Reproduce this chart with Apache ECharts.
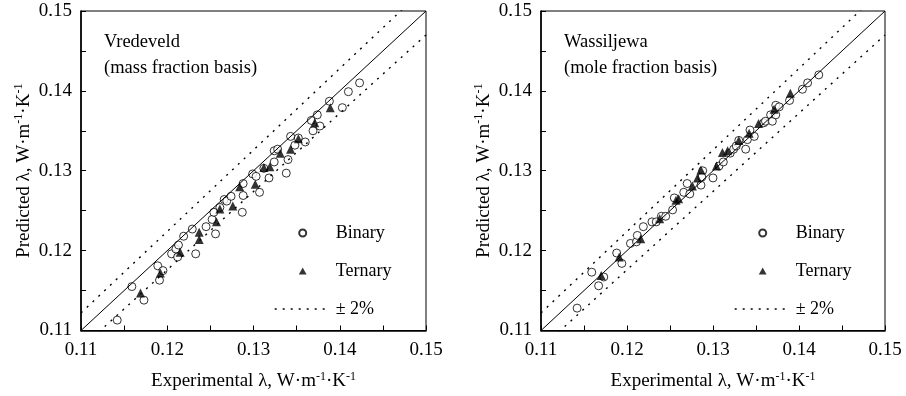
<!DOCTYPE html>
<html>
<head>
<meta charset="utf-8">
<script src="https://cdn.jsdelivr.net/npm/echarts@6/dist/echarts.min.js"></script>
<style>
  html, body { margin: 0; padding: 0; background: #fff; }
  #chart { width: 906px; height: 396px; }
</style>
</head>
<body>
<div id="chart"></div>
<script>
// data: [experimental, predicted] in W/(m K)
var vredeveldBinary = [
  [0.1142, 0.1113], [0.1159, 0.1155], [0.1173, 0.1138], [0.1189, 0.1181], [0.1191, 0.1163],
  [0.1195, 0.1175], [0.1205, 0.1196], [0.1210, 0.1202], [0.1213, 0.1207], [0.1212, 0.1192],
  [0.1219, 0.1218], [0.1229, 0.1227], [0.1233, 0.1196], [0.1245, 0.1230], [0.1252, 0.1239],
  [0.1256, 0.1221], [0.1254, 0.1248], [0.1261, 0.1254], [0.1266, 0.1264], [0.1269, 0.1262],
  [0.1274, 0.1268], [0.1287, 0.1248], [0.1288, 0.1269], [0.1288, 0.1284], [0.1299, 0.1296],
  [0.1303, 0.1293], [0.1307, 0.1273], [0.1312, 0.1303], [0.1318, 0.1291], [0.1324, 0.1311],
  [0.1324, 0.1325], [0.1328, 0.1327], [0.1338, 0.1297], [0.1340, 0.1314], [0.1343, 0.1343],
  [0.1348, 0.1332], [0.1352, 0.1341], [0.1360, 0.1336], [0.1367, 0.1363], [0.1369, 0.1350],
  [0.1374, 0.1370], [0.1377, 0.1356], [0.1388, 0.1387], [0.1403, 0.1379], [0.1410, 0.1399],
  [0.1423, 0.1410]
];
var vredeveldTernary = [
  [0.1169, 0.1147], [0.1192, 0.1172], [0.1215, 0.1198], [0.1237, 0.1223], [0.1237, 0.1214],
  [0.1257, 0.1236], [0.1261, 0.1252], [0.1276, 0.1256], [0.1284, 0.1280], [0.1302, 0.1283],
  [0.1312, 0.1304], [0.1319, 0.1305], [0.1331, 0.1322], [0.1343, 0.1327], [0.1352, 0.1340],
  [0.1371, 0.1360], [0.1389, 0.1379]
];
var wassiljewaBinary = [
  [0.1142, 0.1128], [0.1159, 0.1173], [0.1167, 0.1156], [0.1173, 0.1167], [0.1188, 0.1197],
  [0.1194, 0.1184], [0.1204, 0.1209], [0.1211, 0.1211], [0.1212, 0.1219], [0.1219, 0.1230],
  [0.1229, 0.1236], [0.1234, 0.1236], [0.1240, 0.1243], [0.1245, 0.1243], [0.1253, 0.1251],
  [0.1255, 0.1266], [0.1266, 0.1273], [0.1270, 0.1284], [0.1273, 0.1271], [0.1286, 0.1282],
  [0.1288, 0.1300], [0.1287, 0.1292], [0.1300, 0.1291], [0.1307, 0.1306], [0.1312, 0.1311],
  [0.1320, 0.1322], [0.1324, 0.1327], [0.1327, 0.1331], [0.1330, 0.1338], [0.1338, 0.1327],
  [0.1340, 0.1339], [0.1343, 0.1351], [0.1348, 0.1343], [0.1359, 0.1360], [0.1361, 0.1362],
  [0.1367, 0.1370], [0.1369, 0.1362], [0.1373, 0.1370], [0.1373, 0.1382], [0.1377, 0.1380],
  [0.1389, 0.1388], [0.1404, 0.1402], [0.1410, 0.1410], [0.1423, 0.1420]
];
var wassiljewaTernary = [
  [0.1170, 0.1169], [0.1191, 0.1192], [0.1216, 0.1215], [0.1238, 0.1240], [0.1257, 0.1263],
  [0.1260, 0.1265], [0.1276, 0.1281], [0.1282, 0.1291], [0.1286, 0.1301], [0.1304, 0.1306],
  [0.1311, 0.1323], [0.1317, 0.1325], [0.1330, 0.1338], [0.1342, 0.1347], [0.1353, 0.1359],
  [0.1371, 0.1377], [0.1390, 0.1397]
];

var axisMin = 0.11, axisMax = 0.15, axisStep = 0.01;
var band = 0.02; // +/- 2 % deviation lines
var panelNotes = ['Vredeveld\n(mass fraction basis)', 'Wassiljewa\n(mole fraction basis)'];

var font = 'Liberation Serif';
var dots = [2, 6];
var chart = echarts.init(document.getElementById('chart'));

var parity = [[axisMin, axisMin], [axisMax, axisMax]];
var upper = parity.map(function (p) { return [p[0], p[1] * (1 + band)]; });
var lower = parity.map(function (p) { return [p[0], p[1] * (1 - band)]; });

var titleRich = {
  a: { fontFamily: font, fontSize: 19, lineHeight: 22, color: '#000' },
  s: { fontFamily: font, fontSize: 12, lineHeight: 10, verticalAlign: 'top', color: '#000' }
};

function makeAxis(i, dim) {
  var nm = dim === 'x' ? 'Experimental' : 'Predicted';
  return {
    gridIndex: i,
    type: 'value',
    min: axisMin, max: axisMax, interval: axisStep,
    name: '{a|' + nm + ' λ, W·m}{s|-1}{a|·K}{s|-1}',
    nameLocation: 'middle',
    nameGap: dim === 'x' ? 40 : 46,
    nameTextStyle: { rich: titleRich },
    axisLine: { onZero: false, lineStyle: { color: '#000', width: 1.6 } },
    axisTick: { inside: true, length: 5, lineStyle: { color: '#000' } },
    minorTick: { show: true, splitNumber: 2, length: 5, lineStyle: { color: '#000' } },
    splitLine: { show: false },
    axisLabel: {
      color: '#000', fontFamily: font, fontSize: 19, margin: dim === 'x' ? 10 : 9,
      formatter: function (v) { return v.toFixed(2); }
    }
  };
}

var series = [];
var sets = [[vredeveldBinary, vredeveldTernary], [wassiljewaBinary, wassiljewaTernary]];
sets.forEach(function (s, i) {
  series.push(
    { name: 'y = x', type: 'line', xAxisIndex: i, yAxisIndex: i, data: parity, symbol: 'none',
      itemStyle: { color: '#000' }, lineStyle: { color: '#000', width: 1 }, silent: true },
    { name: '± 2%', type: 'line', xAxisIndex: i, yAxisIndex: i, data: upper, symbol: 'none',
      itemStyle: { color: '#000' }, lineStyle: { color: '#000', width: 1.4, type: dots }, silent: true },
    { name: '± 2%', type: 'line', xAxisIndex: i, yAxisIndex: i, data: lower, symbol: 'none',
      itemStyle: { color: '#000' }, lineStyle: { color: '#000', width: 1.4, type: dots }, silent: true },
    { name: 'Binary', type: 'scatter', xAxisIndex: i, yAxisIndex: i, data: s[0], symbol: 'circle',
      symbolSize: 8, itemStyle: { color: '#fff', borderColor: '#000', borderWidth: 1 } },
    { name: 'Ternary', type: 'scatter', xAxisIndex: i, yAxisIndex: i, data: s[1], symbol: 'triangle',
      symbolSize: 9, itemStyle: { color: '#000' } }
  );
});

function makeLegend(left) {
  return {
    left: left, top: 223, orient: 'vertical', padding: 0,
    itemWidth: 56, itemHeight: 7, itemGap: 18,
    selectedMode: false,
    textStyle: { fontFamily: font, fontSize: 18, lineHeight: 20, color: '#000' },
    lineStyle: { width: 1.4, type: dots },
    data: [
      'Binary',
      { name: 'Ternary', icon: 'path://M5,0 L10,9 L0,9 Z' },
      { name: '± 2%', itemStyle: { opacity: 0 } }
    ]
  };
}

chart.setOption({
  backgroundColor: '#fff',
  animation: false,
  grid: [
    { left: 81, top: 11, width: 345, height: 321, show: true, borderColor: '#000', borderWidth: 1 },
    { left: 541, top: 11, width: 344, height: 321, show: true, borderColor: '#000', borderWidth: 1 }
  ],
  xAxis: [makeAxis(0, 'x'), makeAxis(1, 'x')],
  yAxis: [makeAxis(0, 'y'), makeAxis(1, 'y')],
  legend: [makeLegend(274), makeLegend(734)],
  graphic: [
    { type: 'text', left: 104, top: 29, style: { text: panelNotes[0], font: '18.5px "Liberation Serif"', lineHeight: 26, fill: '#000' } },
    { type: 'text', left: 564, top: 29, style: { text: panelNotes[1], font: '18.5px "Liberation Serif"', lineHeight: 26, fill: '#000' } }
  ],
  series: series
});
</script>
</body>
</html>
